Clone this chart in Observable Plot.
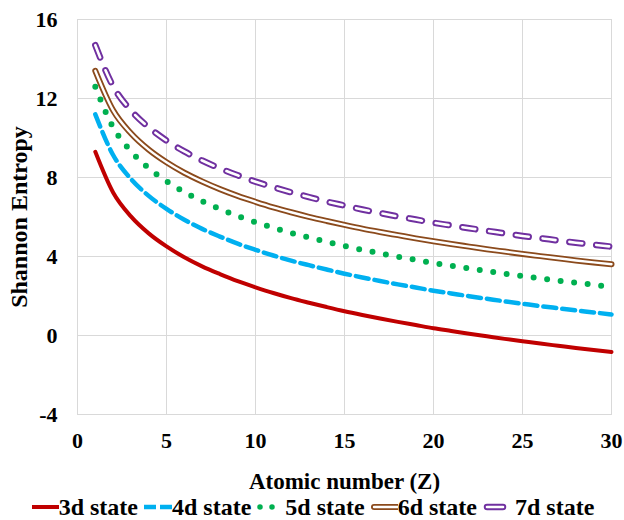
<!DOCTYPE html>
<html>
<head>
<meta charset="utf-8">
<script src="https://cdn.jsdelivr.net/npm/d3@7"></script>
<script src="https://cdn.jsdelivr.net/npm/@observablehq/plot@0.6"></script>
<style>
  html, body { margin: 0; padding: 0; background: #fff; overflow: hidden; }
  #chart { width: 624px; height: 495px; }
  #chart svg text { font-family: "Liberation Serif", "Times New Roman", serif; }
  .legend { display: flex; justify-content: center; align-items: center; height: 24px; line-height: 24px; white-space: nowrap;
    font-family: "Liberation Serif", "Times New Roman", serif; font-weight: bold; font-size: 24px; color: #000; margin-left: 8px; }
  .legend .item { display: flex; align-items: center; margin-right: 6px; }
  .legend svg { display: block; }
</style>
</head>
<body>
<div id="chart"></div>
<script>
const Z = [1,2,3,4,5,6,7,8,9,10,11,12,13,14,15,16,17,18,19,20,21,22,23,24,25,26,27,28,29,30];
const s3d = [9.30,7.24,6.03,5.17,4.51,3.96,3.50,3.11,2.75,2.44,2.15,1.89,1.66,1.44,1.23,1.04,0.86,0.69,0.53,0.37,0.23,0.09,-0.04,-0.17,-0.29,-0.41,-0.52,-0.63,-0.73,-0.84];
const s4d = [11.20,9.14,7.93,7.07,6.41,5.86,5.40,5.01,4.65,4.34,4.05,3.79,3.56,3.34,3.13,2.94,2.76,2.59,2.43,2.27,2.13,1.99,1.86,1.73,1.61,1.49,1.38,1.27,1.17,1.06];
const s5d = [12.60,10.54,9.33,8.47,7.81,7.26,6.80,6.41,6.05,5.74,5.45,5.19,4.96,4.74,4.53,4.34,4.16,3.99,3.83,3.67,3.53,3.39,3.26,3.13,3.01,2.89,2.78,2.67,2.57,2.46];
const s6d = [13.40,11.40,10.24,9.41,8.77,8.24,7.80,7.41,7.07,6.77,6.49,6.24,6.01,5.80,5.60,5.41,5.24,5.08,4.92,4.77,4.63,4.50,4.37,4.25,4.13,4.02,3.91,3.80,3.70,3.61];
const s7d = [14.70,12.62,11.40,10.54,9.87,9.32,8.86,8.46,8.11,7.79,7.51,7.25,7.01,6.78,6.58,6.38,6.20,6.03,5.87,5.71,5.57,5.43,5.30,5.17,5.04,4.93,4.81,4.70,4.60,4.50];
const xTicks = [0,5,10,15,20,25,30];
const yTicks = [-4,0,4,8,12,16];
const seriesNames = ["3d state","4d state","5d state","6d state","7d state"];

const rows = (vals) => Z.map((z, i) => ({z, v: vals[i]}));
const d3d = rows(s3d), d4d = rows(s4d), d5d = rows(s5d), d6d = rows(s6d), d7d = rows(s7d);
const curve = "monotone-x";
const font = {fontFamily: "Liberation Serif, Times New Roman, serif", fontWeight: "bold", fontSize: "22px", color: "#000", background: "#fff"};

const plot = Plot.plot({
  width: 624,
  height: 495,
  marginTop: 19,
  marginBottom: 81,
  marginLeft: 77,
  marginRight: 13,
  style: font,
  x: {domain: [0, 30]},
  y: {domain: [-4, 16]},
  marks: [
    Plot.gridX(xTicks, {stroke: "#d9d9d9", strokeOpacity: 1}),
    Plot.gridY(yTicks, {stroke: "#d9d9d9", strokeOpacity: 1}),
    Plot.frame({stroke: "#d9d9d9"}),
    Plot.axisX(xTicks, {tickSize: 0, tickPadding: 18, tickFormat: d => String(d), label: null}),
    Plot.axisX({ticks: [], label: "Atomic number (Z)", labelAnchor: "center", labelArrow: "none", labelOffset: 74, fontSize: 23}),
    Plot.axisY(yTicks, {tickSize: 0, tickPadding: 20, tickFormat: d => String(d), label: null}),
    Plot.axisY({ticks: [], label: "Shannon Entropy", labelAnchor: "center", labelArrow: "none", labelOffset: 68, fontSize: 24}),
    Plot.line(d3d, {x: "z", y: "v", stroke: "#c00000", strokeWidth: 4, curve}),
    Plot.line(d4d, {x: "z", y: "v", stroke: "#00b0f0", strokeWidth: 4.5, strokeDasharray: "13,6", curve}),
    Plot.line(d5d, {x: "z", y: "v", stroke: "#00b050", strokeWidth: 6, strokeDasharray: "0,13.6", strokeLinecap: "round", curve}),
    Plot.line(d6d, {x: "z", y: "v", stroke: "#8b4a1c", strokeWidth: 6, curve}),
    Plot.line(d6d, {x: "z", y: "v", stroke: "#fff", strokeWidth: 2.4, curve}),
    Plot.line(d7d, {x: "z", y: "v", stroke: "#7030a0", strokeWidth: 6.5, strokeDasharray: "13,14", strokeLinecap: "round", curve}),
    Plot.line(d7d, {x: "z", y: "v", stroke: "#fff", strokeWidth: 2.6, strokeDasharray: "13,14", strokeLinecap: "round", curve})
  ]
});
document.getElementById("chart").appendChild(plot);

// legend
const swatches = [
  `<svg width="27" height="12"><line x1="0" y1="6" x2="27" y2="6" stroke="#c00000" stroke-width="4"/></svg>`,
  `<svg width="28" height="12"><line x1="0" y1="6" x2="28" y2="6" stroke="#00b0f0" stroke-width="4.5" stroke-dasharray="12,4"/></svg>`,
  `<svg width="28" height="12"><line x1="3" y1="6" x2="16" y2="6" stroke="#00b050" stroke-width="5.5" stroke-linecap="round" stroke-dasharray="0,12"/></svg>`,
  `<svg width="27" height="12"><line x1="3" y1="6" x2="27" y2="6" stroke="#8b4a1c" stroke-width="6" stroke-linecap="round"/><line x1="3" y1="6" x2="27" y2="6" stroke="#fff" stroke-width="2.4" stroke-linecap="round"/></svg>`,
  `<svg width="32" height="12"><line x1="4" y1="6" x2="20" y2="6" stroke="#7030a0" stroke-width="6.5" stroke-linecap="round"/><line x1="4" y1="6" x2="20" y2="6" stroke="#fff" stroke-width="2.6" stroke-linecap="round"/></svg>`
];
const legend = document.createElement("div");
legend.className = "legend";
legend.innerHTML = seriesNames.map((n, i) => `<span class="item">${swatches[i]}<span>${n}</span></span>`).join("");
document.body.appendChild(legend);
</script>
</body>
</html>
